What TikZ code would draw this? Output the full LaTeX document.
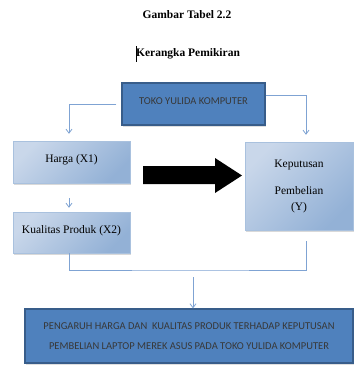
\documentclass[tikz,border=0pt]{standalone}
\usepackage{fontspec}
\setmainfont{Liberation Serif}
\newfontfamily\calibri{Carlito}
\usepackage{tikz}
\usetikzlibrary{arrows.meta,calc,positioning,shadows}
\definecolor{boxblue}{HTML}{4F81BD}
\definecolor{boxedge}{HTML}{385D8A}
\definecolor{linkblue}{HTML}{7FA3D3}
\definecolor{pale}{HTML}{C9D7EA}
\definecolor{deep}{HTML}{93B1D6}

\begin{document}
\begin{tikzpicture}[
  x=1pt,y=-1pt,
  link/.style={draw=linkblue,line width=0.8pt,-{Straight Barb[length=4pt,width=6pt]}},
  plain/.style={draw=linkblue,line width=0.8pt},
  bluebox/.style={draw=boxedge,line width=1.2pt,fill=boxblue,inner sep=0pt,
    text=black!78,font=\calibri\fontsize{10.5}{15}\selectfont,align=center,
    drop shadow={opacity=0.25,shadow xshift=1pt,shadow yshift=-1.5pt}},
  varbox/.style={draw=deep!80,line width=0.4pt,inner sep=0pt,
    top color=pale,middle color=white!90!pale,bottom color=deep,shading angle=45,
    font=\fontsize{11.5}{13}\selectfont,align=center,
    drop shadow={opacity=0.3,shadow xshift=1pt,shadow yshift=-2pt}}
]
  \useasboundingbox (0,0) rectangle (355,365);

  % Headings
  \node[font=\bfseries\fontsize{11.5}{13}\selectfont] (judul) at (187,15) {Gambar Tabel 2.2};
  \node[font=\bfseries\fontsize{11.5}{13}\selectfont] (sub) at (188,54) {Kerangka Pemikiran};
  \draw[line width=0.5pt] (136,46) -- (136,62);

  % Object of study
  \node[bluebox,minimum width=143,minimum height=42,text depth=5pt] (toko) at (193.5,104)
    {TOKO YULIDA KOMPUTER};

  % Variables
  \node[varbox,minimum width=117,minimum height=42,text depth=6pt] (harga) at (71.5,162)
    {Harga (X1)};
  \node[varbox,minimum width=117,minimum height=41,text depth=6pt] (kualitas) at (71.5,232.5)
    {Kualitas Produk (X2)};
  \node[varbox,minimum width=108,minimum height=88] (keputusan) at (299,186)
    {Keputusan\\[14pt]Pembelian\\[3pt](Y)};

  % Outcome
  \node[bluebox,minimum width=328,minimum height=54,font=\calibri\fontsize{10.5}{20}\selectfont] (hasil) at (189,336)
    {PENGARUH HARGA DAN\ \ KUALITAS PRODUK TERHADAP KEPUTUSAN\\
     PEMBELIAN LAPTOP MEREK ASUS PADA TOKO YULIDA KOMPUTER};

  % Big black arrow
  \fill[black] (143,166) -- (215,166) -- (215,158) -- (242,175.5)
    -- (215,193) -- (215,184) -- (143,184) -- cycle;

  % Connectors
  \draw[link] ([xshift=-5pt]toko.west) -| ([xshift=-2.5pt,yshift=7pt]harga.north);
  \draw[link] ([yshift=9pt]toko.east) -| ([xshift=7pt,yshift=7pt]keputusan.north);
  \draw[link] ([xshift=-2.5pt,yshift=-15pt]harga.south) -- ([xshift=-2.5pt,yshift=4pt]kualitas.north);

  \coordinate (gabung) at (193,270);
  \draw[plain] ([xshift=-2.5pt]kualitas.south) |- (gabung)
    -| ([xshift=7pt,yshift=-11pt]keputusan.south);
  \draw[link] ([yshift=-7pt]gabung) -- (gabung |- hasil.north);
\end{tikzpicture}
\end{document}
